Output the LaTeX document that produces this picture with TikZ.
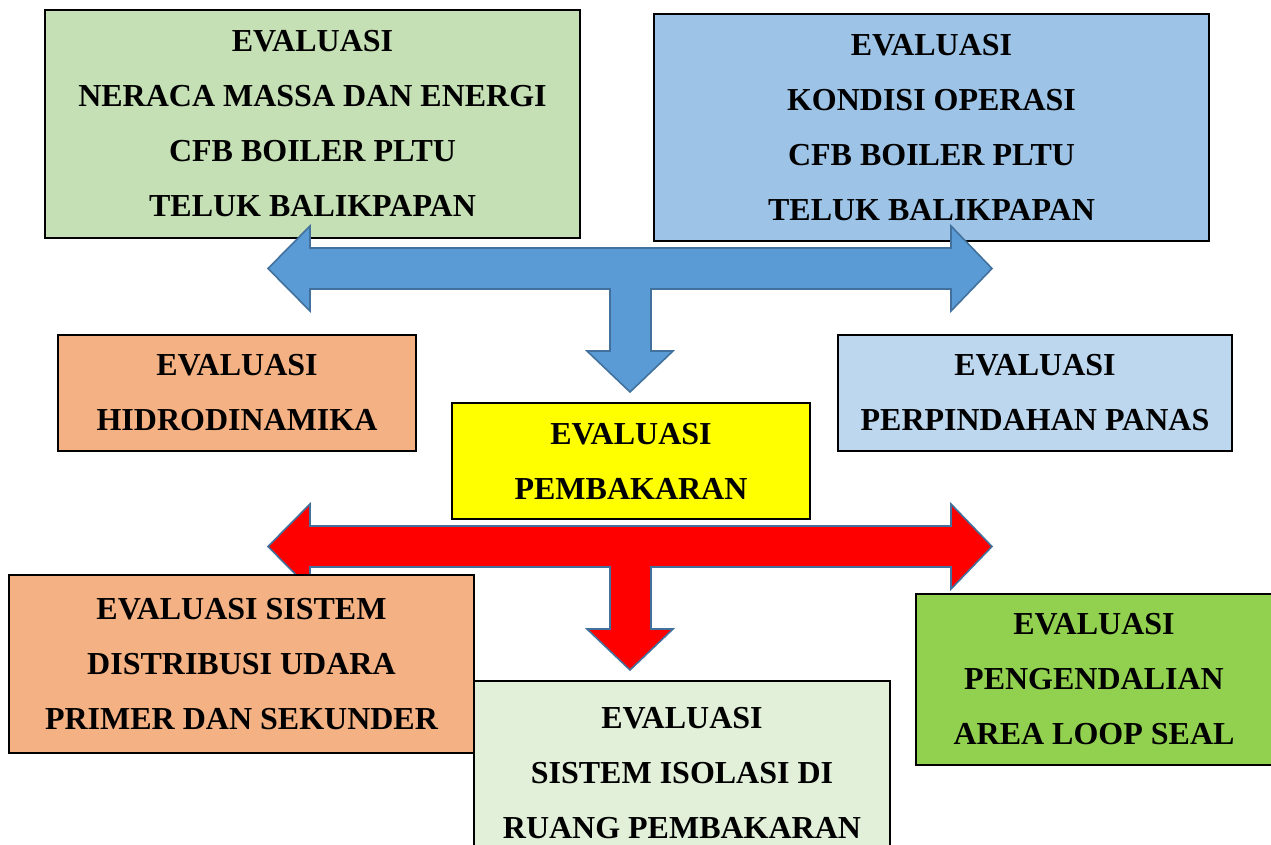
\documentclass[tikz,border=0pt]{standalone}
\usepackage{fontspec}
\setmainfont{Liberation Serif}
\definecolor{gA}{HTML}{C5E0B4}
\definecolor{bA}{HTML}{9DC3E6}
\definecolor{oA}{HTML}{F4B183}
\definecolor{bB}{HTML}{BDD7EE}
\definecolor{yA}{HTML}{FFFF00}
\definecolor{gB}{HTML}{E2F0D9}
\definecolor{gC}{HTML}{92D050}
\definecolor{arrBlue}{HTML}{5B9BD5}
\definecolor{arrLine}{HTML}{41719C}
\definecolor{arrRed}{HTML}{FF0000}
\begin{document}
\begin{tikzpicture}[x=1pt,y=-1pt,
  evbox/.style={draw=black, line width=1.3pt, inner sep=0pt, outer sep=0pt,
    align=center, font=\fontsize{32}{55}\selectfont\bfseries},
  blockarrow/.style={draw=arrLine, line width=1.6pt, line join=miter}]
\useasboundingbox (0,0) rectangle (1271,844);
% top boxes
\node[evbox, fill=gA, minimum width=535, minimum height=228] (b1) at (312.5,124)
  {EVALUASI\\NERACA MASSA DAN ENERGI\\CFB BOILER PLTU\\TELUK BALIKPAPAN};
\node[evbox, fill=bA, minimum width=555, minimum height=227] (b2) at (931.5,127.5)
  {EVALUASI\\KONDISI OPERASI\\CFB BOILER PLTU\\TELUK BALIKPAPAN};
% blue T arrow
\draw[blockarrow, fill=arrBlue] (268,268.5) -- (310,226) -- (310,248) -- (951,248) -- (951,226)
  -- (992,268.5) -- (951,311) -- (951,289) -- (651,289) -- (651,351) -- (673,351)
  -- (630,392) -- (587,351) -- (610,351) -- (610,289) -- (310,289) -- (310,311) -- cycle;
% middle boxes
\node[evbox, fill=oA, minimum width=358, minimum height=116] (b3) at (237,393)
  {EVALUASI\\HIDRODINAMIKA};
\node[evbox, fill=bB, minimum width=394, minimum height=116] (b4) at (1035,393)
  {EVALUASI\\PERPINDAHAN PANAS};
\node[evbox, fill=yA, minimum width=358, minimum height=116] (b5) at (631,461)
  {EVALUASI\\PEMBAKARAN};
% red T arrow
\draw[blockarrow, fill=arrRed] (268,546.5) -- (310,504) -- (310,526) -- (951,526) -- (951,504)
  -- (992,546.5) -- (951,589) -- (951,567) -- (651,567) -- (651,629) -- (673,629)
  -- (630,670) -- (587,629) -- (610,629) -- (610,567) -- (310,567) -- (310,589) -- cycle;
% bottom boxes
\node[evbox, fill=gB, minimum width=416, minimum height=184] (b7) at (682,773)
  {EVALUASI\\SISTEM ISOLASI DI\\RUANG PEMBAKARAN};
\node[evbox, fill=oA, minimum width=465, minimum height=178] (b6) at (241.5,664)
  {EVALUASI SISTEM\\DISTRIBUSI UDARA\\PRIMER DAN SEKUNDER};
\node[evbox, fill=gC, minimum width=356, minimum height=171] (b8) at (1094,679.5)
  {EVALUASI\\PENGENDALIAN\\AREA LOOP SEAL};
\end{tikzpicture}
\end{document}
